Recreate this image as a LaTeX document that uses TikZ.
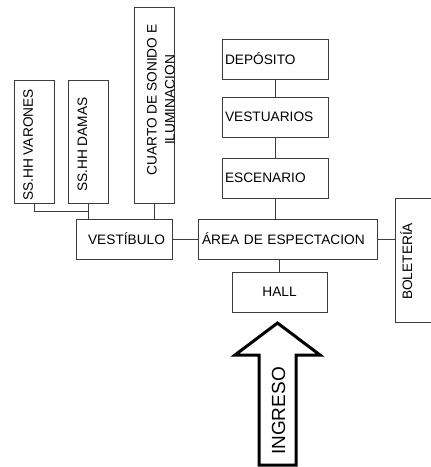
\documentclass[tikz,border=0pt]{standalone}
\usepackage{fontspec}
\setmainfont{Liberation Sans}
\usepackage{tikz}
\usetikzlibrary{positioning, calc}
\definecolor{borde}{RGB}{60,60,60}

\begin{document}
\begin{tikzpicture}[
    x=1pt, y=-1pt,
    font=\fontsize{13.7}{18}\selectfont,
    caja/.style={draw=borde, line width=0.9pt, minimum height=40pt, inner sep=0pt},
    izq/.style={caja, align=left, inner xsep=#1},
    vert/.style={draw=borde, line width=0.9pt, minimum width=40pt, inner sep=0pt},
    etq/.style={inner sep=0pt, rotate=90},
    linea/.style={draw=borde, line width=0.9pt}
  ]
    \clip (0,0) rectangle (431,467);
    % ala izquierda
    \node[vert, minimum height=123pt] (var) at (34,141.5) {};
    \node[vert, minimum height=123pt] (dam) at (88,141.5) {};
    \node[vert, minimum height=196pt] (cua) at (154,105) {};
    \node[etq, anchor=base west] (tvar) at (33,201) {SS.HH VARONES};
    \node[etq, anchor=base west] (tdam) at (87,192) {SS.HH DAMAS};
    \node[etq, align=center] (tcua) at (161,100) {CUARTO DE SONIDO E\\ILUMINACION};
    \node[caja, minimum width=96pt, text width=82pt, align=right] (ves) at (124,239) {VESTÍBULO};
    % eje central
    \node[izq=3pt, text width=100pt] (dep) at (275,59)  {DEPÓSITO};
    \node[izq=3pt, text width=100pt] (vst) at (275,117) {VESTUARIOS};
    \node[izq=3pt, text width=100pt] (esc) at (275,178) {ESCENARIO};
    \node[izq=4pt, text width=171pt] (are) at (287.5,239) {ÁREA DE ESPECTACION};
    \node[caja, minimum width=95pt] (hal) at (279.5,292) {HALL};
    \node[vert, minimum width=46pt, minimum height=124pt] (bol) at (418,260) {};
    \node[etq, anchor=base west] (tbol) at (412,300) {BOLETERÍA};
    % conexiones
    \coordinate (jn) at (88,211);
    \draw[linea] (var.south) |- (jn);
    \draw[linea] (dam.south) -- (dam.south |- ves.north);
    \draw[linea] (cua.south) -- (cua.south |- ves.north);
    \draw[linea] (ves.east) -- (are.west);
    \draw[linea] (dep.south) -- (vst.north);
    \draw[linea] (vst.south) -- (esc.north);
    \draw[linea] (esc.south) -- (esc.south |- are.north);
    \draw[linea] (hal.north) -- (hal.north |- are.south);
    \draw[linea] (are.east) -- (are.east -| bol.west);
    % flecha de ingreso
    \draw[line width=3pt, line join=miter] (277.5,323) -- (320,355) -- (296,355) -- (296,465)
      -- (259,465) -- (259,355) -- (235,355) -- cycle;
    \node[etq, anchor=base west, font=\fontsize{19}{22}\selectfont] (ing) at (285,455) {INGRESO};
  \end{tikzpicture}
\end{document}
